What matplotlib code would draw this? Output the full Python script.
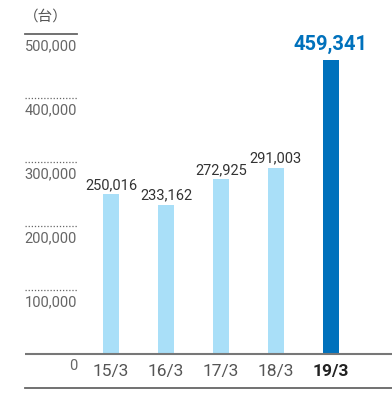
import matplotlib.pyplot as plt

# data
years = ["15/3", "16/3", "17/3", "18/3", "19/3"]
units = [250016, 233162, 272925, 291003, 459341]
yticks = [100000, 200000, 300000, 400000, 500000]

light = "#a9dff8"
dark = "#0071bc"
fam = ["Roboto", "DejaVu Sans"]

fig = plt.figure(figsize=(3.92, 4.2), dpi=100)
ax = fig.add_axes([25 / 392, 32 / 420, 1 - 25 / 392, (388 - 34) / 420])
ax.set_xlim(-86 / 55, 281 / 55)
ax.set_ylim(-34 / 64 * 100000, 500000)

x = list(range(len(years)))
colors = [light] * (len(years) - 1) + [dark]
ax.bar(x, units, width=16 / 55, color=colors, zorder=2)

# value labels
for i, v in enumerate(units):
    last = i == len(units) - 1
    ax.annotate(f"{v:,}", (i, v), xytext=(0, 4 if last else 1.5),
                textcoords="offset points", ha="center", va="bottom",
                family=fam, fontsize=14.5 if last else 10.5,
                fontweight="bold" if last else "normal",
                color=dark if last else "#333333")

# short gridlines on the left + tick labels
gx0, gx1 = -86 / 55, -34 / 55
for t in yticks:
    ls = "-" if t == 500000 else (0, (1, 1.5))
    lw = 1.3 if t == 500000 else 0.9
    ax.plot([gx0, gx1], [t, t], color="#666666", lw=lw, ls=ls,
            clip_on=False, zorder=1)
for t in [0] + yticks:
    ax.annotate(f"{t:,}", (gx1, t), xytext=(0, -3.5), textcoords="offset points",
                ha="right", va="top", family=fam, fontsize=10.5, color="#666666")

# baseline
ax.axhline(0, color="#777777", lw=1.5, zorder=3)

# category labels
for i, lab in enumerate(years):
    last = i == len(years) - 1
    ax.annotate(lab, (i, 0), xytext=(0, -7.5), textcoords="offset points",
                ha="center", va="top", family=fam, fontsize=12.5,
                fontweight="bold" if last else "normal",
                color="#222222" if last else "#555555")

fig.text(24 / 392, 1 - 10 / 420, "（台）", ha="left", va="top",
         family=["Noto Sans CJK JP", "DejaVu Sans"], fontsize=10.5,
         color="#555555")

for s in ["top", "right", "left"]:
    ax.spines[s].set_visible(False)
ax.spines["bottom"].set_color("#666666")
ax.spines["bottom"].set_linewidth(1.3)
ax.set_xticks([])
ax.set_yticks([])

fig.savefig("out.png", dpi=100)
